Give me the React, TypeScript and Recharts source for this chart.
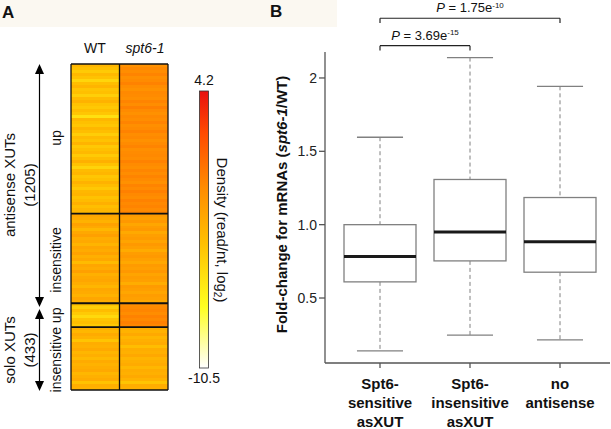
import React from 'react';
import { BarChart, Bar, Cell, XAxis, YAxis, ReferenceLine, ComposedChart } from 'recharts';

const FONT = '"Liberation Sans", Arial, Helvetica, sans-serif';

// ---------- Panel A: heatmap of XUT density (read/nt, log2) ----------
const DENSITY_MIN = -10.5;
const DENSITY_MAX = 4.2;
const COLOR_STOPS: [number, string][] = [
  [0, '#FFFFFF'],
  [0.22, '#FFFF20'],
  [0.45, '#FFC000'],
  [0.65, '#FF8C00'],
  [0.85, '#FF4A00'],
  [1, '#E8100F'],
];

const HEATMAP_COLUMNS = ['WT', 'spt6-1'];

// antisense XUTs, spt6-1 up
const WT_AS_UP = [
  -3.3, -3.9, -4.4, -3.5, -4.0, -5.0, -3.8, -3.2, -4.1, -3.9,
  -4.7, -3.6, -3.1, -4.0, -4.3, -3.7, -4.2, -5.6, -3.4, -3.9,
  -4.2, -3.3, -3.8, -4.6, -3.6, -4.0, -3.2, -4.3, -3.9, -3.5,
  -4.4, -3.7, -3.0, -4.0, -4.9, -3.6, -3.3, -4.2, -3.9, -3.1,
  -3.7, -4.3, -3.4, -3.2, -4.0, -3.6, -3.0, -3.8, -3.3, -3.4,
];
const MUT_AS_UP = [
  -1.2, -0.8, -1.0, -0.6, -1.1, -0.9, -0.5, -1.0, -1.3, -0.8,
  -0.9, -1.1, -0.6, -1.0, -0.4, -0.9, -1.2, -0.8, -1.0, -0.6,
  -1.1, -0.9, -0.5, -1.0, -0.8, -1.2, -0.9, -0.6, -1.1, -0.9,
  -0.8, -1.0, -0.5, -0.9, -1.1, -0.7, -1.0, -0.6, -0.9, -1.2,
  -0.6, -0.9, -0.4, -0.8, -1.0, -0.5, -0.8, -0.6, -0.9, -0.7,
];
// antisense XUTs, insensitive
const WT_AS_INS = [
  -2.4, -2.7, -3.1, -2.2, -2.6, -3.4, -2.5, -2.1, -2.8, -2.6,
  -3.2, -2.4, -2.7, -2.2, -2.9, -2.5, -3.6, -2.4, -2.7, -2.1,
  -3.0, -2.6, -2.4, -2.8, -3.3, -2.5, -2.7, -3.1, -2.4, -2.8,
];
const MUT_AS_INS = [
  -1.8, -2.1, -1.6, -2.4, -1.9, -1.7, -2.6, -2.0, -1.8, -2.3,
  -1.7, -2.0, -2.7, -1.9, -1.7, -2.1, -2.5, -1.8, -2.0, -1.6,
  -2.3, -1.9, -2.1, -2.8, -1.8, -2.0, -2.4, -1.9, -2.1, -2.5,
];
// solo XUTs, up
const WT_SOLO_UP = [-4.0, -4.7, -3.7, -4.4, -5.2, -4.1, -3.8, -4.3];
const MUT_SOLO_UP = [-1.1, -0.9, -0.7, -1.0, -0.5, -0.8, -0.4, -0.7];
// solo XUTs, insensitive
const WT_SOLO_INS = [
  -2.9, -3.4, -2.7, -3.1, -4.1, -2.8, -3.0, -2.6, -3.3, -2.9, -3.5,
  -2.7, -3.1, -2.8, -2.6, -3.4, -3.0, -2.7, -4.0, -2.9, -3.1,
];
const MUT_SOLO_INS = [
  -2.8, -3.1, -2.6, -3.3, -2.9, -2.7, -3.7, -2.8, -3.0, -2.5, -3.2,
  -2.9, -2.7, -3.4, -2.8, -3.0, -2.6, -3.1, -4.1, -2.8, -2.9,
];

const SECTIONS = [
  { wt: WT_AS_UP, mut: MUT_AS_UP },
  { wt: WT_AS_INS, mut: MUT_AS_INS },
  { wt: WT_SOLO_UP, mut: MUT_SOLO_UP },
  { wt: WT_SOLO_INS, mut: MUT_SOLO_INS },
];

// ---------- Panel B: boxplots of mRNA fold-change ----------
const BOX_CATEGORIES = ['Spt6-sensitive asXUT', 'Spt6-insensitive asXUT', 'no antisense'];
const BOX_LABEL_LINES = [
  ['Spt6-', 'sensitive', 'asXUT'],
  ['Spt6-', 'insensitive', 'asXUT'],
  ['no', 'antisense'],
];
const WHISKER_LOW = [0.139, 0.247, 0.214];
const Q1 = [0.61, 0.753, 0.676];
const MEDIAN = [0.783, 0.95, 0.884];
const Q3 = [1.0, 1.308, 1.185];
const WHISKER_HIGH = [1.596, 2.139, 1.943];
const Y_TICKS = [0.5, 1, 1.5, 2];

const BRACKETS = [
  { from: 0, to: 2, level: 2.407, drop: 2.375, p: '1.75', exp: '-10' },
  { from: 0, to: 1, level: 2.22, drop: 2.188, p: '3.69', exp: '-15' },
];

// ---------- helpers ----------
function hexToRgb(h: string) {
  const n = parseInt(h.slice(1), 16);
  return [(n >> 16) & 255, (n >> 8) & 255, n & 255];
}

function densityColor(v: number) {
  const t = Math.max(0, Math.min(1, (v - DENSITY_MIN) / (DENSITY_MAX - DENSITY_MIN)));
  for (let i = 1; i < COLOR_STOPS.length; i++) {
    const [t1, c1] = COLOR_STOPS[i];
    const [t0, c0] = COLOR_STOPS[i - 1];
    if (t <= t1) {
      const f = (t - t0) / (t1 - t0);
      const a = hexToRgb(c0);
      const b = hexToRgb(c1);
      const c = a.map((x, k) => Math.round(x + (b[k] - x) * f));
      return `rgb(${c[0]},${c[1]},${c[2]})`;
    }
  }
  return COLOR_STOPS[COLOR_STOPS.length - 1][1];
}

const heatRows = SECTIONS.flatMap((s, si) =>
  s.wt.map((w, i) => ({ row: `s${si}r${i}`, wt: w, mut: s.mut[i] }))
);
const sectionStarts = SECTIONS.map((_, si) => `s${si}r0`);
const lastRow = heatRows[heatRows.length - 1].row;

const boxData = BOX_CATEGORIES.map((name, i) => ({
  name,
  low: WHISKER_LOW[i],
  q1: Q1[i],
  median: MEDIAN[i],
  q3: Q3[i],
  high: WHISKER_HIGH[i],
}));

const BoxShape = (props: any) => {
  const { x, y, width, height, payload } = props;
  const top = Math.min(y, y + height);
  const h = Math.abs(height);
  const py = (v: number) => top + (h * (payload.high - v)) / (payload.high - payload.low);
  const cx = x + width / 2;
  const cap = width * 0.32;
  const grey = '#808080';
  return (
    <g>
      <line x1={cx} x2={cx} y1={py(payload.high)} y2={py(payload.q3)} stroke={grey} strokeWidth={1} strokeDasharray="4 3" />
      <line x1={cx} x2={cx} y1={py(payload.q1)} y2={py(payload.low)} stroke={grey} strokeWidth={1} strokeDasharray="4 3" />
      <line x1={cx - cap} x2={cx + cap} y1={py(payload.high)} y2={py(payload.high)} stroke={grey} strokeWidth={1.3} />
      <line x1={cx - cap} x2={cx + cap} y1={py(payload.low)} y2={py(payload.low)} stroke={grey} strokeWidth={1.3} />
      <rect x={x} y={py(payload.q3)} width={width} height={py(payload.q1) - py(payload.q3)} fill="#fff" stroke={grey} strokeWidth={1.3} />
      <line x1={x} x2={x + width} y1={py(payload.median)} y2={py(payload.median)} stroke="#1a1a1a" strokeWidth={3} />
    </g>
  );
};

const CategoryTick = ({ x, y, payload }: any) => {
  const idx = BOX_CATEGORIES.indexOf(payload.value);
  const lines = BOX_LABEL_LINES[idx] ?? [payload.value];
  return (
    <text x={x} y={y} textAnchor="middle" fontFamily={FONT} fontSize={15} fontWeight="bold" fill="#111">
      {lines.map((l, i) => (
        <tspan key={i} x={x} dy={i === 0 ? 21 : 19}>{l}</tspan>
      ))}
    </text>
  );
};

const YTitle = (props: any) => {
  const vb = props.viewBox ?? { x: 0, y: 52, width: 95, height: 311 };
  const cx = vb.x + 51;
  const cy = vb.y + vb.height / 2 - 3;
  return (
    <text transform={`translate(${cx},${cy}) rotate(-90)`} textAnchor="middle" dominantBaseline="central"
      fontFamily={FONT} fontSize={15} fontWeight="bold" fill="#111">
      Fold-change for mRNAs (<tspan fontStyle="italic">spt6-1</tspan>/WT)
    </text>
  );
};

const PLabel = (p: string, exp: string) => (props: any) => {
  const vb = props.viewBox;
  if (!vb) return null;
  const cx = vb.x + vb.width / 2;
  return (
    <text x={cx} y={vb.y - 6} textAnchor="middle" fontFamily={FONT} fontSize={13} fill="#111">
      <tspan fontStyle="italic">P</tspan> = {p}e<tspan dy={-4.5} fontSize={8}>{exp}</tspan>
    </text>
  );
};

const Rotated = ({ x, y, angle = -90, size = 15, children, italic }: any) => (
  <text transform={`translate(${x},${y}) rotate(${angle})`} textAnchor="middle" dominantBaseline="central"
    fontFamily={FONT} fontSize={size} fill="#111" fontStyle={italic ? 'italic' : 'normal'}>
    {children}
  </text>
);

const Arrow = ({ x, y1, y2 }: { x: number; y1: number; y2: number }) => (
  <g fill="#000" stroke="#000">
    <line x1={x} x2={x} y1={y1 + 8} y2={y2 - 8} strokeWidth={1.2} />
    <polygon points={`${x},${y1} ${x - 4.5},${y1 + 10} ${x + 4.5},${y1 + 10}`} stroke="none" />
    <polygon points={`${x},${y2} ${x - 4.5},${y2 - 10} ${x + 4.5},${y2 - 10}`} stroke="none" />
  </g>
);

export default function App() {
  return (
    <div style={{ position: 'absolute', left: 0, top: 0, width: 611, height: 429, background: '#fff', fontFamily: FONT, overflow: 'hidden' }}>
      <div style={{ position: 'absolute', left: 0, top: 0, width: 337, height: 27, background: '#FBF8F1' }} />

      {/* panel A annotations */}
      <svg width={240} height={429} style={{ position: 'absolute', left: 0, top: 0 }}>
        <defs>
          <linearGradient id="densityGrad" x1="0" y1="1" x2="0" y2="0">
            {COLOR_STOPS.map(([t, c]) => (
              <stop key={t} offset={t} stopColor={c} />
            ))}
          </linearGradient>
        </defs>
        <text x={2} y={18} fontFamily={FONT} fontSize={17} fontWeight="bold" fill="#111">A</text>
        <text x={95} y={53} textAnchor="middle" fontFamily={FONT} fontSize={14} fill="#111">{HEATMAP_COLUMNS[0]}</text>
        <text x={145} y={53} textAnchor="middle" fontFamily={FONT} fontSize={14} fontStyle="italic" fill="#111">{HEATMAP_COLUMNS[1]}</text>

        <Arrow x={39.5} y1={64} y2={307} />
        <Arrow x={39.5} y1={309} y2={391} />
        <Rotated x={9} y={185}>antisense XUTs</Rotated>
        <Rotated x={29} y={185}>(1205)</Rotated>
        <Rotated x={9} y={350}>solo XUTs</Rotated>
        <Rotated x={29} y={350}>(433)</Rotated>
        <Rotated x={56} y={138} size={14}>up</Rotated>
        <Rotated x={56} y={260} size={14}>insensitive</Rotated>
        <Rotated x={56} y={350} size={14}>insensitive up</Rotated>

        <rect x={199.5} y={91} width={9} height={277} fill="url(#densityGrad)" stroke="#333" strokeWidth={0.8} />
        <text x={204} y={85} textAnchor="middle" fontFamily={FONT} fontSize={14} fill="#111">{DENSITY_MAX}</text>
        <text x={204} y={383} textAnchor="middle" fontFamily={FONT} fontSize={14} fill="#111">{DENSITY_MIN}</text>
        <Rotated x={222} y={230} angle={90}>
          Density (read/nt, log<tspan dy={4} fontSize={10}>2</tspan><tspan dy={-4}>)</tspan>
        </Rotated>
      </svg>

      {/* panel A heatmap */}
      <div style={{ position: 'absolute', left: 69, top: 62 }}>
        <BarChart width={101} height={330} data={heatRows} layout="vertical" barCategoryGap={0}
          margin={{ top: 2, right: 2, bottom: 2, left: 2 }}>
          <XAxis type="number" domain={[0, 2]} hide />
          <YAxis type="category" dataKey="row" hide />
          <Bar dataKey={() => 1} stackId="cols" isAnimationActive={false} shapeRendering="crispEdges">
            {heatRows.map((r) => (
              <Cell key={r.row} fill={densityColor(r.wt)} />
            ))}
          </Bar>
          <Bar dataKey={() => 1} stackId="cols" isAnimationActive={false} shapeRendering="crispEdges">
            {heatRows.map((r) => (
              <Cell key={r.row} fill={densityColor(r.mut)} />
            ))}
          </Bar>
          {[0, 1, 2].map((v) => (
            <ReferenceLine key={`v${v}`} x={v} stroke="#111" strokeWidth={1.3} />
          ))}
          {sectionStarts.map((r, i) => (
            <ReferenceLine key={r} y={r} position="start" stroke="#111" strokeWidth={i === 0 ? 1.3 : 1.8} />
          ))}
          <ReferenceLine y={lastRow} position="end" stroke="#111" strokeWidth={1.3} />
        </BarChart>
      </div>

      {/* panel B */}
      <svg width={60} height={30} style={{ position: 'absolute', left: 260, top: 0 }}>
        <text x={10} y={17} fontFamily={FONT} fontSize={17} fontWeight="bold" fill="#111">B</text>
      </svg>
      <div style={{ position: 'absolute', left: 230, top: 0 }}>
        <ComposedChart width={381} height={429} data={boxData} margin={{ top: 52, right: 1, bottom: 0, left: 0 }}>
          <XAxis dataKey="name" type="category" height={66} padding={{ left: 10, right: 5 }}
            axisLine={{ stroke: '#555', strokeWidth: 1.3 }} tickLine={{ stroke: '#555', strokeWidth: 1.3 }}
            tickSize={5} tickMargin={0} tick={<CategoryTick />} interval={0} />
          <YAxis type="number" domain={[0.057, 2.177]} allowDataOverflow ticks={Y_TICKS} width={95}
            tickFormatter={(v: number) => (v === 2 ? '2' : v.toFixed(1))}
            axisLine={{ stroke: '#555', strokeWidth: 1.3 }} tickLine={{ stroke: '#555', strokeWidth: 1.3 }}
            tickSize={6} tickMargin={2} tick={{ fontSize: 14, fill: '#222', fontFamily: FONT }}
            label={(props: any) => <YTitle {...props} />} />
          <Bar dataKey={(d: any) => [d.low, d.high]} barSize={72} shape={<BoxShape />} isAnimationActive={false} />
          {BRACKETS.map((b, i) => (
            <React.Fragment key={i}>
              <ReferenceLine ifOverflow="visible" stroke="#222" strokeWidth={1.2}
                segment={[{ x: BOX_CATEGORIES[b.from], y: b.level }, { x: BOX_CATEGORIES[b.to], y: b.level }]}
                label={PLabel(b.p, b.exp)} />
              <ReferenceLine ifOverflow="visible" stroke="#222" strokeWidth={1.2}
                segment={[{ x: BOX_CATEGORIES[b.from], y: b.level }, { x: BOX_CATEGORIES[b.from], y: b.drop }]} />
              <ReferenceLine ifOverflow="visible" stroke="#222" strokeWidth={1.2}
                segment={[{ x: BOX_CATEGORIES[b.to], y: b.level }, { x: BOX_CATEGORIES[b.to], y: b.drop }]} />
            </React.Fragment>
          ))}
        </ComposedChart>
      </div>
    </div>
  );
}
